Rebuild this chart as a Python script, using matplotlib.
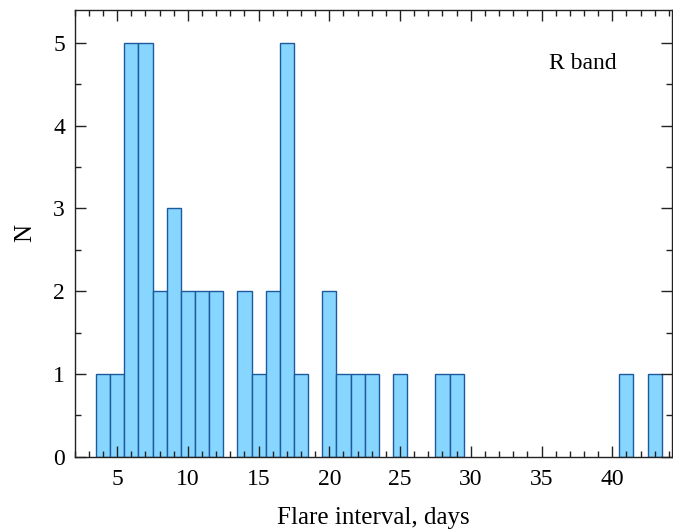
import matplotlib
matplotlib.use("Agg")
import matplotlib.pyplot as plt
from matplotlib.ticker import MultipleLocator

# interval between flares (days) and number of cases in each 1-day bin
intervals = [4, 5, 6, 7, 8, 9, 10, 11, 12, 14, 15, 16, 17, 18,
             20, 21, 22, 23, 25, 28, 29, 41, 43]
counts = [1, 1, 5, 5, 2, 3, 2, 2, 2, 2, 1, 2, 5, 1,
          2, 1, 1, 1, 1, 1, 1, 1, 1]

plt.rcParams["font.family"] = ["Liberation Serif", "DejaVu Serif"]

fig = plt.figure(figsize=(6.73, 5.29), dpi=100)
ax = fig.add_axes([0.111, 0.137, 0.887, 0.844])

ax.bar(intervals, counts, width=1.0, align="center",
       color="#87D6FF", edgecolor="#1C5A9C", linewidth=1.0)

ax.set_xlim(2, 44.2)
ax.set_ylim(0, 5.4)
ax.xaxis.set_major_locator(MultipleLocator(5))
ax.xaxis.set_minor_locator(MultipleLocator(1))
ax.yaxis.set_major_locator(MultipleLocator(1))
ax.yaxis.set_minor_locator(MultipleLocator(0.5))

ax.tick_params(which="both", direction="in", top=True, right=True,
               width=1.0, color="#222222")
ax.tick_params(which="major", length=8, labelsize=17)
ax.tick_params(axis="x", which="major", pad=9)
ax.tick_params(axis="y", which="major", pad=7)
ax.tick_params(which="minor", length=4)
for s in ax.spines.values():
    s.set_linewidth(1.0)
    s.set_color("#222222")

ax.set_xlabel("Flare interval, days", fontsize=18, labelpad=12)
ax.set_ylabel("N", fontsize=18, labelpad=12)
ax.text(37.9, 4.75, "R band", fontsize=17, ha="center", va="center")

fig.savefig("out.png", dpi=100)
